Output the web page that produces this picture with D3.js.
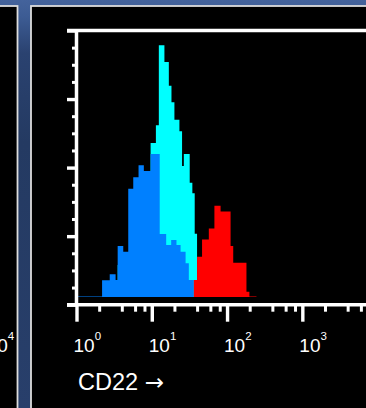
<!DOCTYPE html>
<html>
<head>
<meta charset="utf-8">
<script src="https://cdn.jsdelivr.net/npm/d3@7"></script>
<style>
  body { margin: 0; background: #000; }
  svg { display: block; font-family: "Liberation Sans", Arial, sans-serif; }
</style>
</head>
<body>
<div id="chart"></div>
<script>
// histogram bins, edges in channels (256 channels per decade), counts in events
var blueEdges = [0, 87, 113, 133, 140, 159, 176, 193, 211, 229, 252, 283, 305, 322, 340, 354, 371, 382, 399];
var blueCounts = [0.4, 16.7, 22.7, 17, 51, 45.3, 108.3, 119.7, 131.8, 126, 143, 63, 52, 57, 52, 45.3, 33.7, 17];

var cyanEdges = [140, 211, 252, 270, 280, 299, 314, 323, 333, 350, 359, 365, 385, 394, 402, 410];
var cyanCounts = [32, 107, 154, 171.7, 251.7, 235, 211.3, 194.7, 177.3, 165.7, 131, 143, 114.3, 103.7, 63.3];

var redEdges = [399, 410, 427, 450, 469, 490, 524, 533, 578, 588, 612];
var redCounts = [17, 40.3, 57.5, 68.5, 91.3, 85.5, 51, 34.3, 5.3, 0.4];

var xTickVals = [1, 10, 100, 1000, 10000];
var xLabelVals = [1, 10, 100, 1000];
var xLabelExps = ["0", "1", "2", "3"];
var xMinorVals = [];
[1, 10, 100, 1000].forEach(function(d) {
  [2, 4, 6, 8].forEach(function(m) { xMinorVals.push(d * m); });
});
var yMajor = [0, 1, 2, 3, 4];
var yMinor = d3.range(0, 4, 0.25).filter(function(d) { return d % 1 !== 0; });
var xTitle = "CD22";
var xArrow = "\u2192";

var width = 366;
var height = 408;

var svg = d3
  .select("#chart")
  .append("svg")
  .attr("width", width)
  .attr("height", height);

// blue backdrop
var grad = svg.append("defs")
  .append("linearGradient")
  .attr("id", "bg")
  .attr("gradientUnits", "userSpaceOnUse")
  .attr("x1", 0).attr("y1", 0)
  .attr("x2", 0).attr("y2", height);
grad.append("stop").attr("offset", 0).attr("stop-color", "#44639c");
grad.append("stop").attr("offset", 0.04).attr("stop-color", "#3d5c94");
grad.append("stop").attr("offset", 0.13).attr("stop-color", "#2a4270");
grad.append("stop").attr("offset", 0.35).attr("stop-color", "#243a62");
grad.append("stop").attr("offset", 1).attr("stop-color", "#283f6b");

svg.append("rect")
  .attr("width", width)
  .attr("height", height)
  .attr("fill", "url(#bg)");

// neighbour panel on the left, and this panel
svg.append("rect")
  .attr("x", -30).attr("y", 6)
  .attr("width", 47.5).attr("height", 500)
  .attr("fill", "#000")
  .attr("stroke", "#dcdcdc")
  .attr("stroke-width", 1.8);
svg.append("rect")
  .attr("x", 31).attr("y", 6)
  .attr("width", 400).attr("height", 500)
  .attr("fill", "#000")
  .attr("stroke", "#dcdcdc")
  .attr("stroke-width", 1.8);

var x = d3.scaleLog().domain([1, 10000]).range([76.5, 377.6]);
var y = d3.scaleLinear().domain([0, 266]).range([297, 31]);
var yFrame = d3.scaleLinear().domain([0, 4]).range([304.7, 30.5]);

function chan(c) {
  return Math.pow(10, c / 256);
}

function stepPoints(edges, counts) {
  var pts = [[edges[0], 0]];
  counts.forEach(function(c, i) {
    pts.push([edges[i], c]);
    pts.push([edges[i + 1], c]);
  });
  pts.push([edges[edges.length - 1], 0]);
  return pts;
}

var line = d3.line()
  .x(function(d) { return x(chan(d[0])); })
  .y(function(d) { return y(d[1]); });

var series = [
  { edges: cyanEdges, counts: cyanCounts, color: "#00ffff" },
  { edges: blueEdges, counts: blueCounts, color: "#0080ff" },
  { edges: redEdges, counts: redCounts, color: "#ff0000" }
];

svg.selectAll("path.hist")
  .data(series)
  .enter()
  .append("path")
  .attr("class", "hist")
  .attr("d", function(d) { return line(stepPoints(d.edges, d.counts)) + "Z"; })
  .attr("fill", function(d) { return d.color; });

// frame
var frame = svg.append("g")
  .attr("stroke", "#fff")
  .attr("stroke-width", 3.5)
  .attr("fill", "none");
frame.append("line")
  .attr("x1", 67).attr("x2", width + 5)
  .attr("y1", yFrame(4)).attr("y2", yFrame(4));
frame.append("line")
  .attr("x1", 67).attr("x2", width + 5)
  .attr("y1", yFrame(0)).attr("y2", yFrame(0));
frame.append("line")
  .attr("x1", x(1)).attr("x2", x(1))
  .attr("y1", yFrame(4)).attr("y2", yFrame(0));

// axes ticks
var yAxisMajor = d3.axisLeft(yFrame).tickValues(yMajor).tickSize(10).tickFormat("");
var yAxisMinor = d3.axisLeft(yFrame).tickValues(yMinor).tickSize(5).tickFormat("");
var xAxisMajor = d3.axisBottom(x).tickValues(xTickVals).tickSize(17).tickFormat("");
var xAxisMinor = d3.axisBottom(x).tickValues(xMinorVals).tickSize(7).tickFormat("");

svg.append("g")
  .attr("class", "yAxis")
  .attr("transform", "translate(" + (x(1) + 0.5) + ",0)")
  .call(yAxisMajor);
svg.append("g")
  .attr("class", "yAxis minor")
  .attr("transform", "translate(" + (x(1) + 0.5) + ",0)")
  .call(yAxisMinor);
svg.append("g")
  .attr("class", "xAxis")
  .attr("transform", "translate(0," + yFrame(0) + ")")
  .call(xAxisMajor);
svg.append("g")
  .attr("class", "xAxis minor")
  .attr("transform", "translate(0," + yFrame(0) + ")")
  .call(xAxisMinor);

svg.selectAll(".yAxis .domain, .xAxis .domain").remove();
svg.selectAll(".yAxis .tick line, .xAxis .tick line")
  .attr("stroke", "#fff")
  .attr("stroke-width", 3.4);
svg.selectAll(".minor .tick line").attr("stroke-width", 3);

// tick labels 10^n
function addLabels(scale, vals, exps) {
  var t = svg.append("g")
    .selectAll("text")
    .data(vals)
    .enter()
    .append("text")
    .attr("x", function(d) { return scale(d) - 3; })
    .attr("y", 352)
    .attr("fill", "#fff")
    .attr("font-size", 19);
  t.append("tspan").text("10");
  t.append("tspan")
    .attr("dy", -12)
    .attr("font-size", 11.5)
    .text(function(d, i) { return exps[i]; });
}
addLabels(x, xLabelVals, xLabelExps);

// last label of the panel to the left
var xPrev = x.copy().range([x.range()[0] - 388, x.range()[1] - 388]);
addLabels(xPrev, [10000], ["4"]);

var title = svg.append("text")
  .attr("x", 78)
  .attr("y", 390)
  .attr("fill", "#fff")
  .attr("font-size", 23.5);
title.append("tspan").text(xTitle + " ");
title.append("tspan")
  .attr("font-family", "DejaVu Sans")
  .attr("font-size", 23)
  .text(xArrow);
</script>
</body>
</html>
